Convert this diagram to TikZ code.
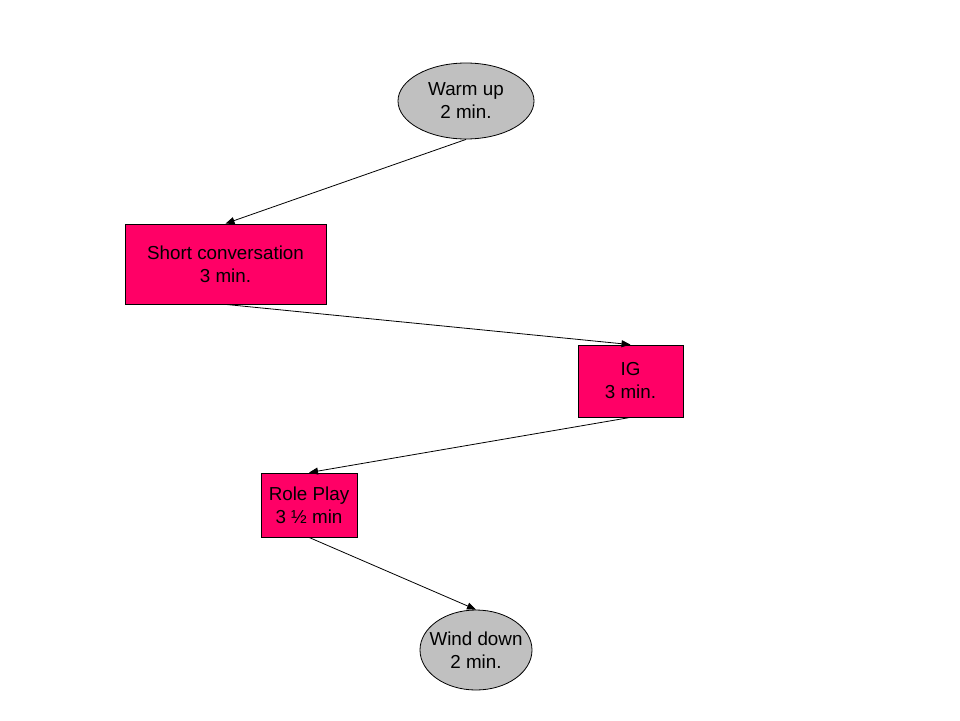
\documentclass[tikz,border=0pt]{standalone}
\usepackage{fontspec}
\setmainfont{Liberation Sans}
\definecolor{stagepink}{RGB}{255, 0, 102}
\definecolor{stagegray}{RGB}{192, 192, 192}
\usetikzlibrary{shapes, arrows.meta, positioning}

\begin{document}
\begin{tikzpicture}[x=1pt, y=-1pt, line width=0.8pt]
  \useasboundingbox (0, 0) rectangle (960, 720);

  % Open and close
  \node[draw, ellipse, fill=stagegray, minimum width=136pt, minimum height=76pt, inner sep=0pt, align=center, font=\fontsize{18.8}{23}\selectfont] (warm) at (466, 101) {Warm up\\2 min.};
  \node[draw, ellipse, fill=stagegray, minimum width=112pt, minimum height=80pt, inner xsep=-7.5pt, inner ysep=0pt, align=center, font=\fontsize{18.8}{23}\selectfont] (wind) at (476, 650) {Wind down\\2 min.};

  % Activities
  \node[draw, fill=stagepink, minimum width=201pt, minimum height=80pt, inner sep=0pt, align=center, font=\fontsize{18.8}{23}\selectfont] (conv) at (225.5, 264) {Short conversation\\3 min.};
  \node[draw, fill=stagepink, minimum width=105pt, minimum height=72pt, inner sep=0pt, align=center, font=\fontsize{18.8}{23}\selectfont] (ig) at (630.5, 381) {IG\\3 min.};
  \node[draw, fill=stagepink, minimum width=96pt, minimum height=64pt, inner sep=0pt, align=center, font=\fontsize{18.8}{23}\selectfont] (role) at (309, 505) {Role Play\\3 ½ min};

  \draw[-{Triangle[length=9pt, width=7pt]}] (warm.south) -- (conv.north);
  \draw[-{Triangle[length=9pt, width=7pt]}] (conv.south) -- (ig.north);
  \draw[-{Triangle[length=9pt, width=7pt]}] (ig.south) -- (role.north);
  \draw[-{Triangle[length=9pt, width=7pt]}] (role.south) -- (wind.north);
\end{tikzpicture}
\end{document}
